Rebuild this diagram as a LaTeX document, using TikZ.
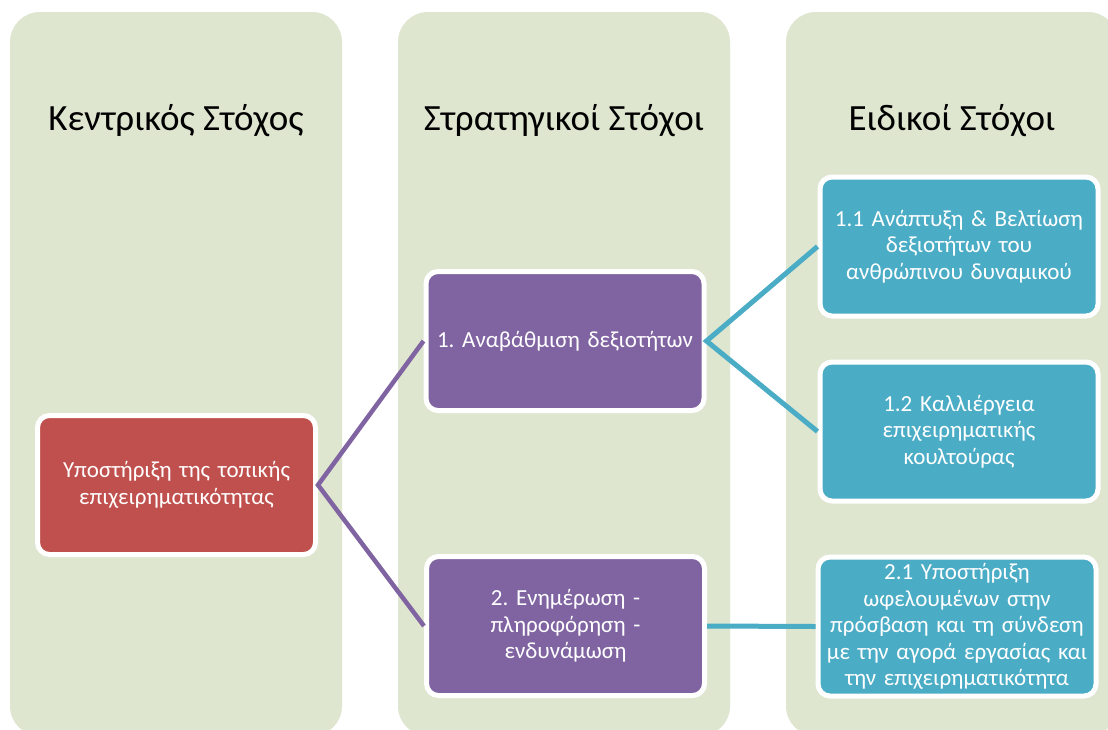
\documentclass[tikz,border=0pt]{standalone}
\usepackage{fontspec}
\setmainfont{Carlito}
\frenchspacing
\definecolor{panelgreen}{HTML}{DEE6D0}
\definecolor{boxred}{HTML}{C0504D}
\definecolor{boxpurple}{HTML}{8064A2}
\definecolor{boxblue}{HTML}{4BACC6}
\tikzset{
  panel/.style={fill=panelgreen, draw=none, rounded corners=30pt},
  title/.style={anchor=base, font=\fontsize{37}{44}\selectfont, text=black},
  goalbox/.style={rounded corners=12pt, draw=white, line width=5pt, text=white,
    minimum width=278pt, minimum height=139pt, inner sep=0pt, align=center,
    text width=272pt, font=\fontsize{23}{26.5}\selectfont},
  redbox/.style={goalbox, fill=boxred},
  purplebox/.style={goalbox, fill=boxpurple},
  bluebox/.style={goalbox, fill=boxblue},
  purplelink/.style={draw=boxpurple, line width=4.5pt},
  bluelink/.style={draw=boxblue, line width=5pt}
}
\begin{document}
\begin{tikzpicture}[x=1pt, y=-1pt]
\useasboundingbox (0,0) rectangle (1108,729);
\clip (0,0) rectangle (1108,729);
\fill[white] (0,0) rectangle (1108,729);
% panels
\path[panel] (10,12) rectangle (342,736);
\path[panel] (398,12) rectangle (730,736);
\path[panel] (786,12) rectangle (1118,736);
% titles
\node[title] (t1) at (176,130) {Κεντρικός Στόχος};
\node[title] (t2) at (564,130) {Στρατηγικοί Στόχοι};
\node[title] (t3) at (952,130) {Ειδικοί Στόχοι};
% boxes
\node[redbox] (r) at (176.5,485) {Υποστήριξη της τοπικής\\επιχειρηματικότητας};
\node[purplebox] (p1) at (565,341) {1. Αναβάθμιση δεξιοτήτων};
\node[purplebox] (p2) at (565.5,626) {2. Ενημέρωση -\\πληροφόρηση -\\ενδυνάμωση};
\node[bluebox] (b1) at (959,246.5) {1.1 Ανάπτυξη \& Βελτίωση\\δεξιοτήτων του\\ανθρώπινου δυναμικού};
\node[bluebox] (b2) at (959,431.5) {1.2 Καλλιέργεια\\επιχειρηματικής\\κουλτούρας};
\node[bluebox] (b3) at (957,626.5) {2.1 Υποστήριξη\\ωφελουμένων στην\\πρόσβαση και τη σύνδεση\\με την αγορά εργασίας και\\την επιχειρηματικότητα};
% connectors
\draw[purplelink] (p1.west) -- (r.east) -- (p2.west);
\draw[bluelink] (b1.west) -- (p1.east) -- (b2.west);
\draw[bluelink] (p2.east) -- (b3.west);
\end{tikzpicture}
\end{document}
